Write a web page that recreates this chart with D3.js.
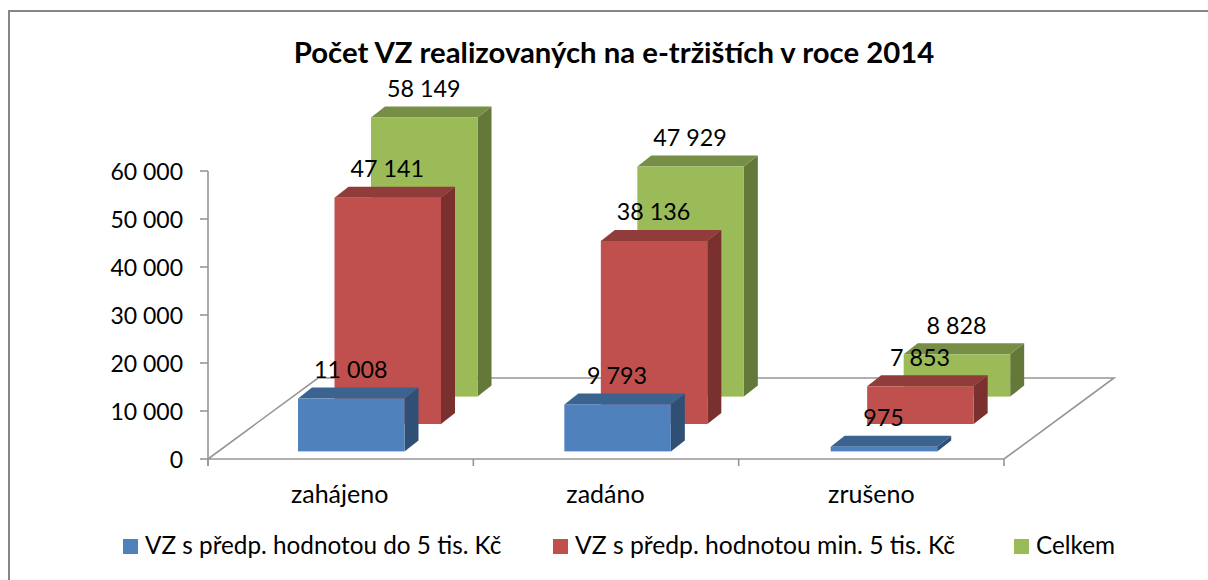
<!DOCTYPE html>
<html><head><meta charset="utf-8">
<script src="https://cdn.jsdelivr.net/npm/d3@7"></script>
<style>html,body{margin:0;padding:0;background:#fff}svg{display:block}text{font-family:Lato,"Open Sans",sans-serif;fill:#000}</style>
</head><body><svg id="c" width="1208" height="580"></svg>
<script>
const title = "Počet VZ realizovaných na e-tržištích v roce 2014";
const categories = ["zahájeno", "zadáno", "zrušeno"];
const seriesNames = ["VZ s předp. hodnotou do 5 tis. Kč", "VZ s předp. hodnotou min. 5 tis. Kč", "Celkem"];
const seriesSmall = [11008, 9793, 975];
const seriesLarge = [47141, 38136, 7853];
const seriesTotal = [58149, 47929, 8828];
const yTicks = [0, 10000, 20000, 30000, 40000, 50000, 60000];
const seriesValues = [seriesSmall, seriesLarge, seriesTotal];
const front = ["#4f81bd", "#c0504d", "#9bbb59"];
const topC = ["#3b6390", "#8f3c3a", "#768e45"];
const sideC = ["#304f74", "#7a302e", "#637839"];
const fmt = v => d3.format(",")(v).replace(/,/g, " ");

const svg = d3.select("#c");
const y = d3.scaleLinear().domain([0, 60000]).range([459, 171]);
const x = d3.scaleBand().domain(categories).range([208, 1004]);
const xBar = d3.scaleBand().domain(categories).range([298, 1097]);
const floorDx = 110, floorDy = -81;
const barW = 106.5, barDx = 14, barDy = -11;
const stepX = 36.5, stepY = -27.4, baseOff = -7.6;

const frame = svg.append("g").attr("stroke","#868686").attr("stroke-width",2);
frame.append("line").attr("x1",9).attr("x2",9).attr("y1",10).attr("y2",580);
frame.append("line").attr("x1",8).attr("x2",1208).attr("y1",11).attr("y2",11);

svg.append("text").attr("x",614).attr("y",63).attr("text-anchor","middle").attr("font-size",29.3).attr("font-weight",700).text(title);

// floor
const fl = svg.append("g").attr("fill","none").attr("stroke","#969696").attr("stroke-width",1.6);
fl.append("path").attr("d", d3.line()([[x.range()[0],y(0)],[x.range()[0]+floorDx,y(0)+floorDy],[x.range()[1]+floorDx,y(0)+floorDy],[x.range()[1],y(0)],[x.range()[0],y(0)]]));
fl.append("line").attr("x1",x.range()[0]).attr("x2",x.range()[0]).attr("y1",y(60000)).attr("y2",y(0)+7);
yTicks.forEach(t=>fl.append("line").attr("x1",x.range()[0]-8).attr("x2",x.range()[0]).attr("y1",y(t)).attr("y2",y(t)));
[...categories.map(c=>x(c)), x.range()[1]].forEach(v=>fl.append("line").attr("x1",v).attr("x2",v).attr("y1",y(0)).attr("y2",y(0)+7));

svg.append("g").selectAll("text").data(yTicks).join("text")
  .attr("x",183).attr("y",d=>y(d)+8.5).attr("text-anchor","end").attr("font-size",23).text(fmt);
svg.append("g").selectAll("text").data(categories).join("text")
  .attr("x",(d,i)=>x(d)+x.bandwidth()/2-1+i*0.5).attr("y",503).attr("text-anchor","middle").attr("font-size",25).text(d=>d);

const bars = svg.append("g");
[2,1,0].forEach(s=>{
  categories.forEach((c,i)=>{
    const v = seriesValues[s][i];
    const x0 = xBar(c)+s*stepX, b = y(0)+baseOff+s*stepY, t = b-(y(0)-y(v)), x1 = x0+barW;
    const g = bars.append("g");
    g.append("path").attr("fill",sideC[s]).attr("d",d3.line()([[x1,b],[x1+barDx,b+barDy],[x1+barDx,t+barDy],[x1,t]]));
    g.append("path").attr("fill",topC[s]).attr("d",d3.line()([[x0,t],[x0+barDx,t+barDy],[x1+barDx,t+barDy],[x1,t]]));
    g.append("rect").attr("x",x0).attr("y",t).attr("width",barW).attr("height",b-t).attr("fill",front[s]);
  });
});
const lab = svg.append("g");
[2,1,0].forEach(s=>{
  categories.forEach((c,i)=>{
    const v = seriesValues[s][i];
    const x0 = xBar(c)+s*stepX, b = y(0)+baseOff+s*stepY, t = b-(y(0)-y(v));
    lab.append("text").attr("x",x0+barW/2-0.5).attr("y",t-20.5).attr("text-anchor","middle").attr("font-size",23.3).text(fmt(v));
  });
});

const lg = [[123,145],[553,575],[1014,1036]];
const lgSize = [24.3, 24.7, 24.3];
seriesNames.forEach((n,i)=>{
  svg.append("rect").attr("x",lg[i][0]).attr("y",539).attr("width",15).attr("height",15).attr("fill",front[i]);
  svg.append("text").attr("x",lg[i][1]).attr("y",554).attr("font-size",lgSize[i]).text(n);
});
</script></body></html>
